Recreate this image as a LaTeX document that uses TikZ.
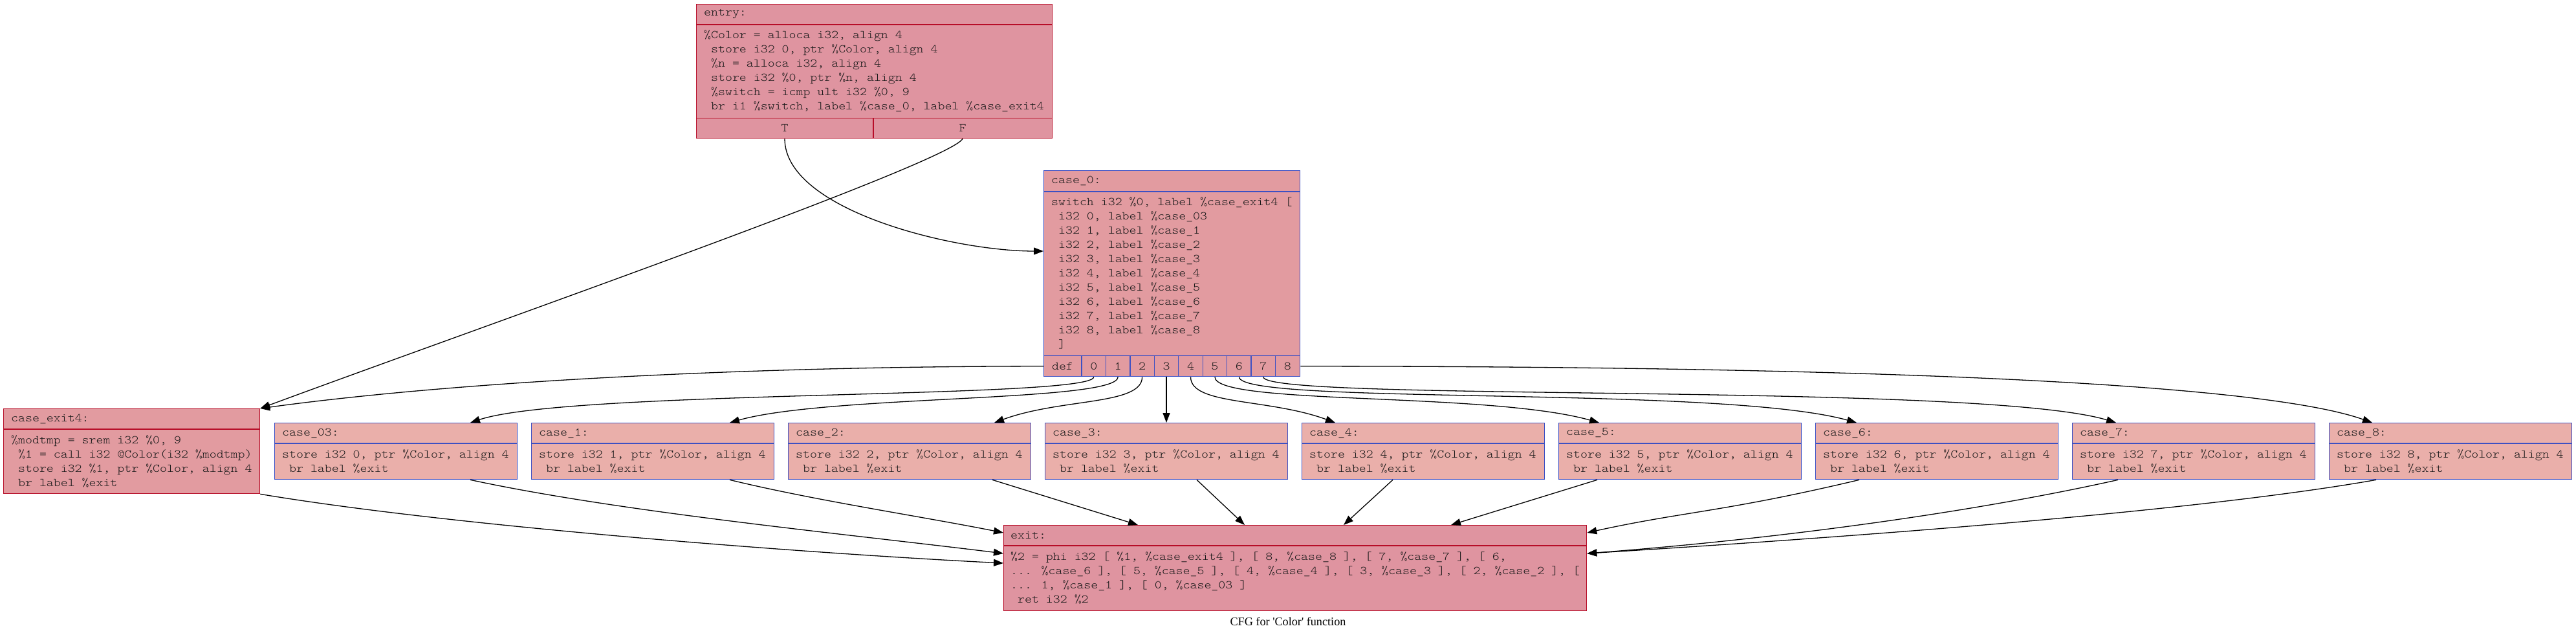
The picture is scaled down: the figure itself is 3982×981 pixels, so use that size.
\documentclass[tikz,border=0pt]{standalone}
\usepackage{fontspec}
\setmainfont{Liberation Serif}[Ligatures=TeXOff]
\newfontfamily\codefont{Latin Modern Mono Light}[Ligatures=TeXOff, FakeStretch=1.143]
\usetikzlibrary{arrows.meta,calc}
\definecolor{crim}{HTML}{B70D28}
\definecolor{blu}{HTML}{3D50C3}
\definecolor{fillA}{HTML}{DF94A0}
\definecolor{fillB}{HTML}{E29BA0}
\definecolor{fillC}{HTML}{EAAFAA}
\newcommand{\myind}{\hspace*{0.6em}}
\begin{document}
\begin{tikzpicture}[x=1pt,y=-1pt,
  blk/.style={draw, line width=1.3pt, rectangle, inner sep=0pt, anchor=north west},
  sep/.style={line width=1.3pt},
  code/.style={font=\codefont\fontsize{18.25}{22}\selectfont, inner sep=0pt, align=left, anchor=west, text=black!90},
  portlab/.style={font=\codefont\fontsize{18.25}{22}\selectfont, inner sep=0pt, anchor=center, text=black!90},
  cfgedge/.style={draw, line width=1.3pt, -{Triangle[length=15pt,width=11pt]}},
]
\useasboundingbox[fill=white] (0,0) rectangle (3982,981);

% ---------- entry ----------
\node[blk, draw=crim, fill=fillA, minimum width=550pt, minimum height=207pt] (entry) at (1076,6) {};
\draw[sep, crim] ($(entry.north west)+(0,32)$) -- ($(entry.north east)+(0,32)$);
\draw[sep, crim] ($(entry.south west)+(0,-32)$) -- ($(entry.south east)+(0,-32)$);
\draw[sep, crim] ($(entry.south west)+(274,0)$) -- ($(entry.south west)+(274,-32)$);
\node[code] (entryh) at ($(entry.north west)+(12,16)$) {entry:};
\node[code] (entryb) at ($(entry.north west)+(12,104)$) {\%Color = alloca i32, align 4\\
\myind store i32 0, ptr \%Color, align 4\\
\myind\%n = alloca i32, align 4\\
\myind store i32 \%0, ptr \%n, align 4\\
\myind\%switch = icmp ult i32 \%0, 9\\
\myind br i1 \%switch, label \%case\_0, label \%case\_exit4};
\node[portlab] (entryT) at ($(entry.south west)+(137,-16)$) {T};
\node[portlab] (entryF) at ($(entry.south west)+(412,-16)$) {F};

% ---------- case_0 ----------
\node[blk, draw=blu, fill=fillB, minimum width=396pt, minimum height=318pt] (case0) at (1613,263) {};
\draw[sep, blu] ($(case0.north west)+(0,33)$) -- ($(case0.north east)+(0,33)$);
\draw[sep, blu] ($(case0.south west)+(0,-33)$) -- ($(case0.south east)+(0,-33)$);
\draw[sep, blu] ($(case0.south west)+(59,0)$) -- ($(case0.south west)+(59,-33)$);
\foreach \k in {1,...,8}{
  \draw[sep, blu] ($(case0.south west)+(59+37.44*\k,0)$) -- ($(case0.south west)+(59+37.44*\k,-33)$);
}
\node[code] (case0h) at ($(case0.north west)+(12,16.5)$) {case\_0:};
\node[code] (case0b) at ($(case0.north west)+(12,159)$) {switch i32 \%0, label \%case\_exit4 [\\
\myind i32 0, label \%case\_03\\
\myind i32 1, label \%case\_1\\
\myind i32 2, label \%case\_2\\
\myind i32 3, label \%case\_3\\
\myind i32 4, label \%case\_4\\
\myind i32 5, label \%case\_5\\
\myind i32 6, label \%case\_6\\
\myind i32 7, label \%case\_7\\
\myind i32 8, label \%case\_8\\
\myind ]};
\node[portlab] (pdef) at ($(case0.south west)+(29.5,-16.5)$) {def};
\foreach \k in {0,...,8}{
  \node[portlab] (p\k) at ($(case0.south west)+(59+37.44*\k+18.72,-16.5)$) {\k};
}

% ---------- case_exit4 ----------
\node[blk, draw=crim, fill=fillB, minimum width=396pt, minimum height=131pt] (cexit) at (5,631) {};
\draw[sep, crim] ($(cexit.north west)+(0,32)$) -- ($(cexit.north east)+(0,32)$);
\node[code] (cexith) at ($(cexit.north west)+(12,16)$) {case\_exit4:};
\node[code] (cexitb) at ($(cexit.north west)+(12,81.5)$) {\%modtmp = srem i32 \%0, 9\\
\myind\%1 = call i32 @Color(i32 \%modtmp)\\
\myind store i32 \%1, ptr \%Color, align 4\\
\myind br label \%exit};

% ---------- case_03 ... case_8 ----------
\foreach \nm/\lab/\val [count=\i from 0] in {c03/case\_03/0, c1/case\_1/1, c2/case\_2/2, c3/case\_3/3, c4/case\_4/4, c5/case\_5/5, c6/case\_6/6, c7/case\_7/7, c8/case\_8/8}{
  \node[blk, draw=blu, fill=fillC, minimum width=375pt, minimum height=87pt] (\nm) at (424+397*\i,653) {};
  \draw[sep, blu] ($(\nm.north west)+(0,32)$) -- ($(\nm.north east)+(0,32)$);
  \node[code] (\nm h) at ($(\nm.north west)+(12,16)$) {\lab:};
  \node[code] (\nm b) at ($(\nm.north west)+(12,59.5)$) {store i32 \val, ptr \%Color, align 4\\
\myind br label \%exit};
}

% ---------- exit ----------
\node[blk, draw=crim, fill=fillA, minimum width=901pt, minimum height=132pt] (exit) at (1551,811) {};
\draw[sep, crim] ($(exit.north west)+(0,32)$) -- ($(exit.north east)+(0,32)$);
\node[code] (exith) at ($(exit.north west)+(11,16)$) {exit:};
\node[code] (exitb) at ($(exit.north west)+(11,82)$) {\%2 = phi i32 [ \%1, \%case\_exit4 ], [ 8, \%case\_8 ], [ 7, \%case\_7 ], [ 6,\\
... \%case\_6 ], [ 5, \%case\_5 ], [ 4, \%case\_4 ], [ 3, \%case\_3 ], [ 2, \%case\_2 ], [\\
... 1, \%case\_1 ], [ 0, \%case\_03 ]\\
\myind ret i32 \%2};

% ---------- caption ----------
\node[font=\fontsize{18.2}{22}\selectfont, inner sep=0pt] (caption) at (1991,960) {CFG for 'Color' function};

% ---------- edges ----------
\draw[cfgedge] ($(entry.south west)+(137,0)$) .. controls +(0,110) and +(-140,0) .. ($(case0.north west)+(0,125)$);
\draw[cfgedge] ($(entry.south west)+(412,0)$) .. controls +(-18,37) and +(299,-111) .. (cexit.north east);
\draw[cfgedge] ($(case0.south west)+(0,-16.5)$) .. controls +(-463,0) and +(299,-41) .. (cexit.north east);

\draw[cfgedge] ($(case0.south west)+(77.7,0)$) .. controls +(0,34) and +(153,-51) .. ($(c03.north west)+(303,0)$);
\draw[cfgedge] ($(case0.south west)+(115.2,0)$) .. controls +(0,39) and +(152,-43) .. ($(c1.north west)+(307,0)$);
\draw[cfgedge] ($(case0.south west)+(152.6,0)$) .. controls +(0,44) and +(103,-38) .. ($(c2.north west)+(319,0)$);
\draw[cfgedge] ($(case0.south west)+(190,0)$) -- ($(c3.north west)+(188,0)$);
\draw[cfgedge] ($(case0.south west)+(227.5,0)$) .. controls +(0,44) and +(-104,-38) .. ($(c4.north west)+(52,0)$);
\draw[cfgedge] ($(case0.south west)+(264.9,0)$) .. controls +(0,44) and +(-172,-48) .. ($(c5.north west)+(63,0)$);
\draw[cfgedge] ($(case0.south west)+(302.4,0)$) .. controls +(0,44) and +(-210,-58) .. ($(c6.north west)+(64,0)$);
\draw[cfgedge] ($(case0.south west)+(339.8,0)$) .. controls +(0,39) and +(-211,-63) .. ($(c7.north west)+(68,0)$);
\draw[cfgedge] ($(case0.south east)+(0,-16.5)$) .. controls +(841,0) and +(-177,-63) .. ($(c8.north west)+(67,0)$);

\draw[cfgedge] (cexit.south east) .. controls +(299,50) and +(-301,-15) .. ($(exit.north west)+(0,59)$);
\draw[cfgedge] ($(c03.south west)+(303,0)$) .. controls +(233,50) and +(-251,-31) .. ($(exit.north west)+(0,44)$);
\draw[cfgedge] ($(c1.south west)+(307,0)$) .. controls +(132,32) and +(-131,-26) .. ($(exit.north west)+(0,12)$);
\draw[cfgedge] ($(c2.south west)+(316,0)$) -- ($(exit.north west)+(208,0)$);
\draw[cfgedge] ($(c3.south west)+(235,0)$) -- ($(exit.north west)+(373,0)$);
\draw[cfgedge] ($(c4.south west)+(141,0)$) -- ($(exit.north west)+(526,0)$);
\draw[cfgedge] ($(c5.south west)+(60,0)$) -- ($(exit.north west)+(692,0)$);
\draw[cfgedge] ($(c6.south west)+(68,0)$) .. controls +(-211,50) and +(150,-33) .. ($(exit.north east)+(0,12)$);
\draw[cfgedge] ($(c7.south west)+(71,0)$) .. controls +(-224,50) and +(300,-23) .. ($(exit.north east)+(0,44)$);
\draw[cfgedge] ($(c8.south west)+(73,0)$) .. controls +(-284,50) and +(400,-25) .. ($(exit.north east)+(0,44)$);
\end{tikzpicture}
\end{document}
